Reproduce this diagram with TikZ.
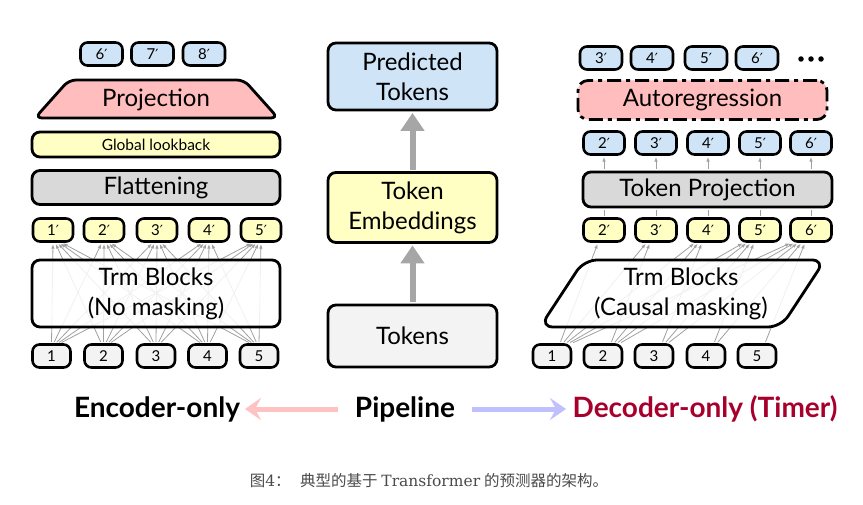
\documentclass[tikz,border=0pt]{standalone}
\usepackage{fontspec}
\setmainfont{Lato}
\newfontfamily\cjk{Noto Sans CJK SC}
\newfontfamily\capserif{DejaVu Serif}
\newfontfamily\primefont{DejaVu Sans}
\usetikzlibrary{arrows.meta,calc}
\definecolor{cblue}{HTML}{CFE4F7}
\definecolor{cyel}{HTML}{FFFFC4}
\definecolor{cpink}{HTML}{FFBDBD}
\definecolor{cgray}{HTML}{D9D9D9}
\definecolor{clight}{HTML}{F3F3F3}
\definecolor{cred}{HTML}{A8002C}
\definecolor{cfan}{HTML}{A0A0A0}
\definecolor{cshaft}{HTML}{A6A6A6}
\definecolor{cpa}{HTML}{FFC2C2}
\definecolor{cba}{HTML}{C0C0FF}
\definecolor{ccap}{HTML}{4A4A4A}
\newcommand{\pr}[1]{#1{\primefont\fontsize{14}{14}\selectfont ′}}
\begin{document}
\begin{tikzpicture}[x=1pt,y=-1pt,
  tok/.style={draw, line width=2.6pt, rounded corners=7pt, minimum width=40pt, minimum height=23pt, inner sep=0pt, font=\fontsize{15}{15}\selectfont},
  bigbox/.style={draw, line width=2.8pt, rounded corners=8pt, inner sep=0pt, font=\fontsize{24}{30}\selectfont, align=center},
  bigtext/.style={inner sep=0pt, font=\fontsize{24}{30}\selectfont, align=center},
  fan/.style={draw=cfan, line width=0.8pt, -{Latex[length=4.5pt,width=3.5pt]}, shorten >=1.3pt, shorten <=1.3pt},
  plainfan/.style={draw=cfan, line width=0.8pt, shorten <=1.3pt, shorten >=1.3pt},
  shaft/.style={draw=cshaft, line width=6pt, -{Triangle[length=18pt,width=23pt]}, shorten >=1.5pt, shorten <=1.5pt},
  botlab/.style={inner sep=0pt, font=\bfseries\fontsize{28}{32}\selectfont},
  botarrow/.style={line width=5pt, -{Stealth[length=16pt,width=22pt,inset=6pt]}},
  dotn/.style={circle, fill=black, inner sep=0pt, minimum size=5.5pt}
]
\useasboundingbox (0,0) rectangle (863,505);

% ---------------- Left column (encoder-only) ----------------
\node[tok, fill=cblue, minimum width=42pt] (tL6) at (101.5,54) {\pr{6}};
\node[tok, fill=cblue, minimum width=42pt] (tL7) at (152.5,54) {\pr{7}};
\node[tok, fill=cblue, minimum width=42pt] (tL8) at (204,54) {\pr{8}};

\draw[line width=2.8pt, fill=cpink, rounded corners=7pt]
  (35,118) -- (69,80) -- (244,80) -- (278,118) -- cycle;
\node[bigtext] (proj) at (156,99.5) {Projection};

\node[bigbox, fill=cyel, minimum width=248pt, minimum height=25pt, font=\fontsize{15.5}{17}\selectfont] (glb) at (156,144.5) {Global lookback};
\node[bigbox, fill=cgray, minimum width=248pt, minimum height=34pt] (flat) at (156,187.5) {Flattening};

\foreach \j/\x in {1/53,2/104,3/157,4/209,5/261}
  \node[tok, fill=cyel] (oL\j) at (\x,230) {\pr{\j}};
\foreach \i/\x in {1/51.5,2/103.5,3/156,4/207.5,5/259}
  \node[tok, fill=clight, minimum width=38pt] (iL\i) at (\x,356) {\i};

\foreach \i in {1,...,5}
  \foreach \j in {1,...,5}
    \draw[fan] ($(iL\i.north)+({(\j-\i)*2.2},0)$) -- ($(oL\j.south)+({(\i-\j)*2.2},0)$);

\node[bigbox, fill=white, fill opacity=0.85, text opacity=1, minimum width=248pt, minimum height=67pt] (trmL) at (156,293.5) {Trm Blocks\\(No masking)};

% ---------------- Centre column (pipeline) ----------------
\node[bigbox, fill=cblue, minimum width=169pt, minimum height=67pt] (pred) at (412.5,76.5) {Predicted\\Tokens};
\node[bigbox, fill=cyel, minimum width=169pt, minimum height=70pt] (emb) at (412.5,207.5) {Token\\Embeddings};
\node[bigbox, fill=clight, minimum width=169pt, minimum height=62pt] (toks) at (412.5,336) {Tokens};
\draw[shaft] (toks.north) -- (emb.south);
\draw[shaft] (emb.north) -- (pred.south);

% ---------------- Right column (decoder-only) ----------------
\foreach \k/\x in {3/601,4/652,5/706,6/757}
  \node[tok, fill=cblue, minimum width=42pt] (tR\k) at (\x,58) {\pr{\k}};
\node[dotn] (d1) at (801,59) {};
\node[dotn] (d2) at (811,59) {};
\node[dotn] (d3) at (821,59) {};

\node[bigbox, fill=cpink, minimum width=249pt, minimum height=39pt, rounded corners=10pt,
      dash pattern=on 14pt off 5pt on 4pt off 5pt] (auto) at (702.5,100) {Autoregression};

\foreach \j/\x/\k in {1/604/2,2/656/3,3/708/4,4/760/5,5/811/6}
  \node[tok, fill=cblue, minimum width=41pt] (bR\j) at (\x,143) {\pr{\k}};
\node[bigbox, fill=cgray, minimum width=249pt, minimum height=35pt] (tp) at (707.5,189.5) {Token Projection};
\foreach \j/\x/\k in {1/604/2,2/656/3,3/708/4,4/760/5,5/811/6}
  \node[tok, fill=cyel, minimum width=41pt] (yR\j) at (\x,230) {\pr{\k}};
\foreach \j in {1,...,5}{
  \draw[plainfan] (yR\j.north) -- (yR\j.north |- tp.south);
  \draw[fan] (bR\j.south |- tp.north) -- (bR\j.south);
}
\foreach \i/\x in {1/552,2/603,3/654,4/706,5/757}
  \node[tok, fill=clight, minimum width=38pt] (iR\i) at (\x,356) {\i};

\foreach \i in {1,...,5}
  \foreach \j in {\i,...,5}
    \draw[fan] ($(iR\i.north)+({8+(\j-\i)*3},0)$) -- ($(yR\j.south)+({-6-(\j-\i)*3.5},0)$);

\draw[line width=2.8pt, fill=white, fill opacity=0.85, rounded corners=13pt]
  (540,327) -- (584,260) -- (825,260) -- (781,327) -- cycle;
\node[bigtext] (trmR) at (681,294) {Trm Blocks\\(Causal masking)};

% ---------------- Bottom legend ----------------
\node[botlab] (enc) at (157,409) {Encoder-only};
\node[botlab] (pipe) at (405,409) {Pipeline};
\node[botlab, text=cred] (dec) at (705,409) {Decoder-only (Timer)};
\coordinate (pa1) at (338,409);
\coordinate (pa2) at (245,409);
\coordinate (ba1) at (472,409);
\coordinate (ba2) at (566,409);
\draw[botarrow, draw=cpa, fill=cpa] (pa1) -- (pa2);
\draw[botarrow, draw=cba, fill=cba] (ba1) -- (ba2);

% ---------------- Caption ----------------
\node[inner sep=0pt, text=ccap, font=\fontsize{15.5}{17}\selectfont] (cap) at (429,481)
  {{\cjk 图}{\capserif 4}{\cjk ：\hspace{0.6em}典型的基于} {\capserif Transformer} {\cjk 的预测器的架构。}};
\end{tikzpicture}
\end{document}
